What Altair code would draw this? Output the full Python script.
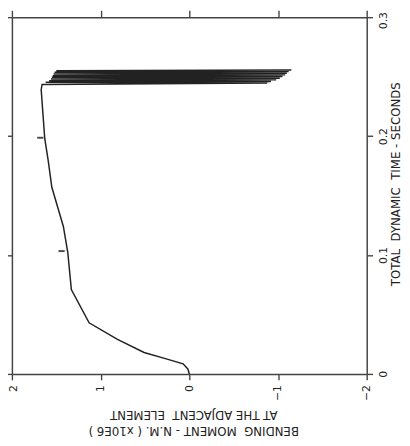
import altair as alt
import pandas as pd

# total dynamic time (s) and bending moment (N.M. x10E6)
time_s = [0.0, 0.004, 0.0085, 0.0127, 0.018, 0.029, 0.043, 0.071, 0.102, 0.124,
          0.157, 0.179, 0.198, 0.239, 0.2434,
          0.2446, 0.2452, 0.2459, 0.2466, 0.2473, 0.2480, 0.2487, 0.2494, 0.2501,
          0.2508, 0.2515, 0.2522, 0.2529, 0.2536, 0.2543, 0.2550, 0.2556]
moment = [0.0, 0.015, 0.07, 0.26, 0.51, 0.81, 1.13, 1.33, 1.37, 1.42,
          1.55, 1.59, 1.63, 1.67, 1.66,
          -0.88, 1.62, -0.92, 1.58, -0.98, 1.56, -1.02, 1.55, -1.05,
          1.54, -1.08, 1.53, -1.10, 1.52, -1.12, 1.50, -1.15]

marker_time = [0.1033, 0.1986]
marker_moment = [1.44, 1.68]

moment_ticks = [-2, -1, 0, 1, 2]
time_ticks = [0, 0.1, 0.2, 0.3]

df = pd.DataFrame({"t": time_s, "m": moment, "i": list(range(len(time_s)))})
mk = pd.DataFrame({"t": marker_time, "m": marker_moment})

xs = alt.Scale(domain=[-2, 2], reverse=True, nice=False, zero=False)
ys = alt.Scale(domain=[0, 0.3], nice=False, zero=False)

FRAME = "#444444"
INK = "#222222"
SP = "\u00a0 "

line = alt.Chart(df).mark_line(color=INK, strokeWidth=1.5).encode(
    x=alt.X("m:Q", scale=xs, axis=alt.Axis(
        orient="bottom", values=moment_ticks, format="d",
        labelAngle=270, labelAlign="right", labelBaseline="middle",
        labelPadding=5, tickSize=6,
        labelOffset={"condition": {"test": "datum.value >= 1.5", "value": 2},
                     "value": 0},
        title=["BENDING" + SP + "MOMENT - N.M. ( x10E6 )",
               "AT THE ADJACENT" + SP + "ELEMENT"],
        titleAngle=180, titleX=185, titleY=58, titleBaseline="middle",
        titleAlign="center", titleLineHeight=17)),
    y=alt.Y("t:Q", scale=ys, axis=alt.Axis(
        orient="right", values=time_ticks, format="~g",
        labelAngle=270, labelAlign="center", labelBaseline="top",
        labelPadding=5, tickSize=6,
        labelOffset={"condition": {"test": "datum.value >= 0.29", "value": 3},
                     "value": 0},
        title="TOTAL" + SP + "DYNAMIC" + SP + "TIME - SECONDS",
        titleAngle=270, titleX=29, titleY=170, titleBaseline="middle",
        titleAlign="center")),
    order=alt.Order("i:Q"),
)

marks = alt.Chart(mk).mark_point(shape="stroke", size=40, color=INK,
                                 strokeWidth=2, opacity=0.8).encode(
    x=alt.X("m:Q", scale=xs, axis=alt.Axis(
        orient="top", values=moment_ticks, labels=False, tickSize=7, title="")),
    y=alt.Y("t:Q", scale=ys, axis=alt.Axis(
        orient="left", values=time_ticks, labels=False, tickSize=6, title="")),
)

chart = alt.layer(line, marks).resolve_axis(
    x="independent", y="independent"
).properties(
    width=362, height=364,
    autosize=alt.AutoSizeParams(type="none"),
    padding={"left": 4, "top": 5, "right": 36, "bottom": 61},
    background="white",
).configure_view(stroke=None).configure_axis(
    domainColor=FRAME, domainWidth=1.5, tickColor=FRAME, tickWidth=1.4,
    grid=False, labelFont="DejaVu Sans", labelFontSize=11, labelColor=INK,
    titleFont="DejaVu Sans", titleFontSize=12, titleFontWeight="normal",
    titleColor=INK,
)

chart.save("out.html", embed_options={"renderer": "svg", "actions": False})
